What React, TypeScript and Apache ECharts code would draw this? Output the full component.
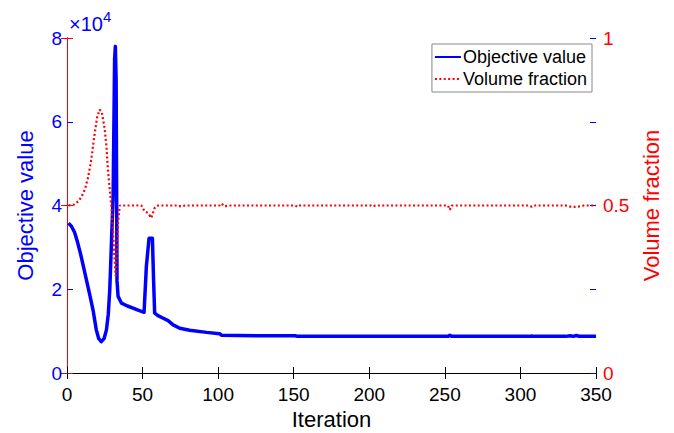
import React, { useEffect, useRef } from "react";
import * as echarts from "echarts";

const objIter = [1, 3, 5, 7, 9, 11, 13, 15, 17.2, 19.4, 21, 22.7, 24.5, 26.1, 27.3, 28.3, 29.4, 30.5, 31.5, 32, 32.5, 33.1, 33.8, 36, 40, 43.7, 47, 51, 52.5, 54.3, 56.5, 57.3, 58, 60.2, 63, 66.9, 70.2, 74.6, 81.2, 92.3, 101, 102.2, 130, 151, 152.5, 252, 253.3, 254.5, 306, 307.5, 309, 330, 333, 335, 337, 339, 350];
const objValue = [35800, 35000, 33600, 31200, 28400, 25200, 22000, 18800, 15100, 10300, 8200, 7500, 8200, 10300, 14000, 19900, 31000, 42000, 75000, 78000, 70000, 22000, 18300, 16700, 16000, 15500, 15000, 14500, 25400, 32200, 32200, 22000, 14300, 13700, 13200, 12500, 11500, 10700, 10200, 9700, 9400, 9000, 8900, 8900, 8750, 8750, 9000, 8750, 8750, 8850, 8750, 8750, 8900, 8750, 8950, 8750, 8750];

const volIter = [1, 5, 8, 10, 12, 14, 16, 18, 20, 21.6, 23, 24.9, 26.1, 27.1, 28.7, 29.6, 30.5, 31.3, 32.2, 33, 33.8, 34.9, 49.2, 51.4, 53.6, 55.8, 58, 60.2, 73, 75.7, 78, 101, 102.2, 104.4, 107, 151, 152.5, 154, 201, 202.5, 204, 252, 253.3, 254.5, 306, 307.5, 309, 330, 332, 336, 339, 342, 350];
const volValue = [0.5, 0.503, 0.515, 0.53, 0.55, 0.585, 0.635, 0.705, 0.765, 0.786, 0.78, 0.73, 0.676, 0.607, 0.527, 0.487, 0.42, 0.35, 0.29, 0.36, 0.45, 0.5, 0.5, 0.482, 0.478, 0.463, 0.493, 0.5, 0.5, 0.497, 0.5, 0.5, 0.506, 0.497, 0.5, 0.5, 0.496, 0.5, 0.5, 0.497, 0.5, 0.5, 0.487, 0.5, 0.5, 0.496, 0.5, 0.5, 0.497, 0.496, 0.497, 0.5, 0.5];

const xTicks = [0, 50, 100, 150, 200, 250, 300, 350];
const seriesNames = ["Objective value", "Volume fraction"];

const FONT = "'Liberation Sans', Arial, sans-serif";
const BLUE = "#0000ff";
const RED = "#ff0000";

export default function App() {
  const ref = useRef<HTMLDivElement>(null);
  useEffect(() => {
    if (!ref.current) return;
    document.body.style.margin = "0";
    const chart = echarts.init(ref.current, undefined, { renderer: "svg" });
    chart.setOption({
      animation: false,
      textStyle: { fontFamily: FONT },
      grid: { left: 67, right: 78, top: 38, bottom: 60, containLabel: false, outerBoundsMode: "none" },
      legend: {
        orient: "vertical",
        right: 82,
        top: 44,
        backgroundColor: "#fff",
        borderColor: "#888",
        borderWidth: 1,
        borderRadius: 0,
        padding: [4, 5, 4, 2],
        itemGap: 4,
        itemWidth: 26,
        itemHeight: 14,
        itemStyle: { opacity: 0 },
        textStyle: { fontFamily: FONT, fontSize: 18, color: "#000", padding: [0, 0, 0, -3] },
        data: seriesNames,
      },
      graphic: [
        { type: "text", left: 69, top: 14, style: { text: "×10", fontFamily: FONT, fontSize: 20, fill: BLUE } },
        { type: "text", left: 103, top: 9, style: { text: "4", fontFamily: FONT, fontSize: 15, fill: BLUE } },
      ],
      xAxis: [
        {
          type: "value",
          min: xTicks[0],
          max: xTicks[xTicks.length - 1],
          interval: 50,
          position: "bottom",
          name: "Iteration",
          nameLocation: "middle",
          nameGap: 35,
          nameTextStyle: { fontFamily: FONT, fontSize: 22, color: "#000" },
          axisLine: { show: true, lineStyle: { color: "#000", width: 1 } },
          axisTick: { show: true, inside: true, length: 6, lineStyle: { color: "#000" } },
          axisLabel: { fontFamily: FONT, fontSize: 19, color: "#000", margin: 12 },
          splitLine: { show: false },
        },
        {
          type: "value",
          min: 0,
          max: 350,
          interval: 50,
          position: "top",
          axisLine: { show: true, lineStyle: { color: "#000", width: 1 } },
          axisTick: { show: true, inside: true, length: 6, lineStyle: { color: "#000" } },
          axisLabel: { show: false },
          splitLine: { show: false },
        },
      ],
      yAxis: [
        {
          type: "value",
          min: 0,
          max: 80000,
          interval: 20000,
          position: "left",
          name: "Objective value",
          nameLocation: "middle",
          nameGap: 31,
          nameTextStyle: { fontFamily: FONT, fontSize: 22, color: BLUE },
          axisLine: { show: true, lineStyle: { color: BLUE, width: 1 } },
          axisTick: { show: true, inside: true, length: 6, lineStyle: { color: BLUE } },
          axisLabel: { fontFamily: FONT, fontSize: 19, color: BLUE, margin: 5, formatter: (v: number) => String(v / 10000) },
          splitLine: { show: false },
        },
        {
          type: "value",
          min: 0,
          max: 1,
          interval: 0.5,
          position: "right",
          name: "Volume fraction",
          nameLocation: "middle",
          nameGap: 41,
          nameRotate: 90,
          nameTextStyle: { fontFamily: FONT, fontSize: 22, color: RED },
          axisLine: { show: true, lineStyle: { color: RED, width: 1 } },
          axisTick: { show: true, inside: true, length: 6, lineStyle: { color: RED } },
          axisLabel: { fontFamily: FONT, fontSize: 19, color: RED, margin: 7 },
          splitLine: { show: false },
        },
        {
          type: "value",
          min: 0,
          max: 80000,
          interval: 20000,
          position: "right",
          axisLine: { show: false },
          axisTick: { show: true, inside: true, length: 6, lineStyle: { color: BLUE } },
          axisLabel: { show: false },
          splitLine: { show: false },
        },
        {
          type: "value",
          min: 0,
          max: 1,
          interval: 0.5,
          position: "left",
          axisLine: { show: false },
          axisTick: { show: true, inside: true, length: 6, lineStyle: { color: RED } },
          axisLabel: { show: false },
          splitLine: { show: false },
        },
      ],
      series: [
        {
          name: seriesNames[0],
          type: "line",
          xAxisIndex: 0,
          yAxisIndex: 0,
          showSymbol: false,
          symbol: "none",
          data: objIter.map((x, i) => [x, objValue[i]]),
          lineStyle: { color: BLUE, width: 3.5, join: "round" },
          itemStyle: { color: BLUE },
          z: 2,
        },
        {
          name: seriesNames[1],
          type: "line",
          xAxisIndex: 0,
          yAxisIndex: 1,
          showSymbol: false,
          symbol: "none",
          data: volIter.map((x, i) => [x, volValue[i]]),
          lineStyle: { color: RED, width: 2.2, type: [2, 2.4] },
          itemStyle: { color: RED },
          z: 3,
        },
      ],
    });
    return () => chart.dispose();
  }, []);
  return <div ref={ref} style={{ width: 674, height: 433 }} />;
}
